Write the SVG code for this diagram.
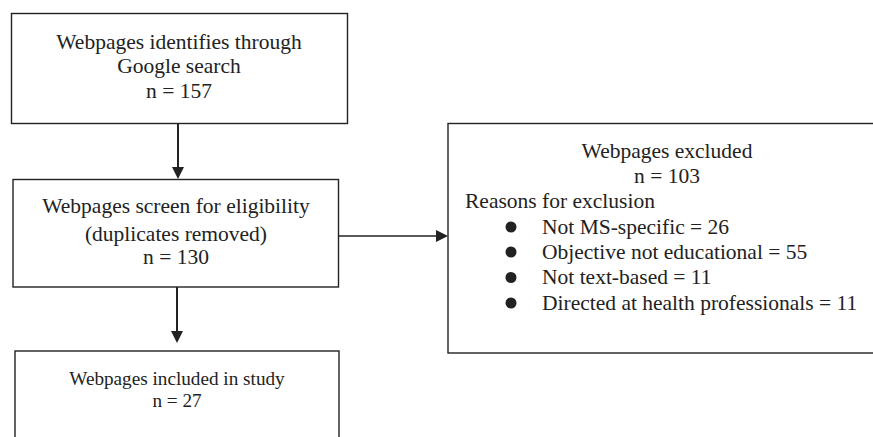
<svg xmlns="http://www.w3.org/2000/svg" width="873" height="437" viewBox="0 0 873 437">
<defs>
<style>
.box{fill:#fff;stroke:#222;stroke-width:1.4}
.t{font-family:"Liberation Serif","Times New Roman",serif;fill:#222}
.c{text-anchor:middle}
.f21{font-size:21.5px}
.f19{font-size:19.2px}
.ln{stroke:#222;fill:none}
.ah{fill:#222}
</style>
</defs>
<rect width="873" height="437" fill="#fff"/>
<g id="connectors">
<line class="ln" x1="178" y1="124" x2="178" y2="168" stroke-width="2"/>
<polygon class="ah" points="172,167 184,167 178,179"/>
<line class="ln" x1="177" y1="287" x2="177" y2="332" stroke-width="2"/>
<polygon class="ah" points="171,331 183,331 177,343"/>
<line class="ln" x1="339" y1="236" x2="437" y2="236" stroke-width="1.3"/>
<polygon class="ah" points="436,230 436,242 448,236"/>
</g>
<g id="node-identified">
<rect class="box" x="11.5" y="13.5" width="336" height="110"/>
<text class="t c f21" x="179" y="49">Webpages identifies through</text>
<text class="t c f21" x="179" y="73">Google search</text>
<text class="t c f21" x="179" y="98">n = 157</text>
</g>
<g id="node-screen">
<rect class="box" x="13" y="179.5" width="325.5" height="107.5"/>
<text class="t c f21" x="176" y="213">Webpages screen for eligibility</text>
<text class="t c f21" x="176" y="241">(duplicates removed)</text>
<text class="t c f21" x="176" y="264">n = 130</text>
</g>
<g id="node-included">
<rect class="box" x="15" y="351" width="324" height="100"/>
<text class="t c f19" x="177" y="385">Webpages included in study</text>
<text class="t c f19" x="177" y="407">n = 27</text>
</g>
<g id="node-excluded">
<rect class="box" x="448" y="123.5" width="440" height="229.5"/>
<text class="t c f21" x="667" y="158">Webpages excluded</text>
<text class="t c f21" x="667" y="183">n = 103</text>
<text class="t f21" x="465" y="207.5">Reasons for exclusion</text>
<circle class="ah" cx="511" cy="227" r="5.5"/>
<circle class="ah" cx="511" cy="252" r="5.5"/>
<circle class="ah" cx="511" cy="277.5" r="5.5"/>
<circle class="ah" cx="511" cy="303" r="5.5"/>
<text class="t f21" x="542" y="233.5">Not MS-specific = 26</text>
<text class="t f21" x="542" y="258.5">Objective not educational = 55</text>
<text class="t f21" x="542" y="284">Not text-based = 11</text>
<text class="t f21" x="542" y="309.5">Directed at health professionals = 11</text>
</g>
</svg>
